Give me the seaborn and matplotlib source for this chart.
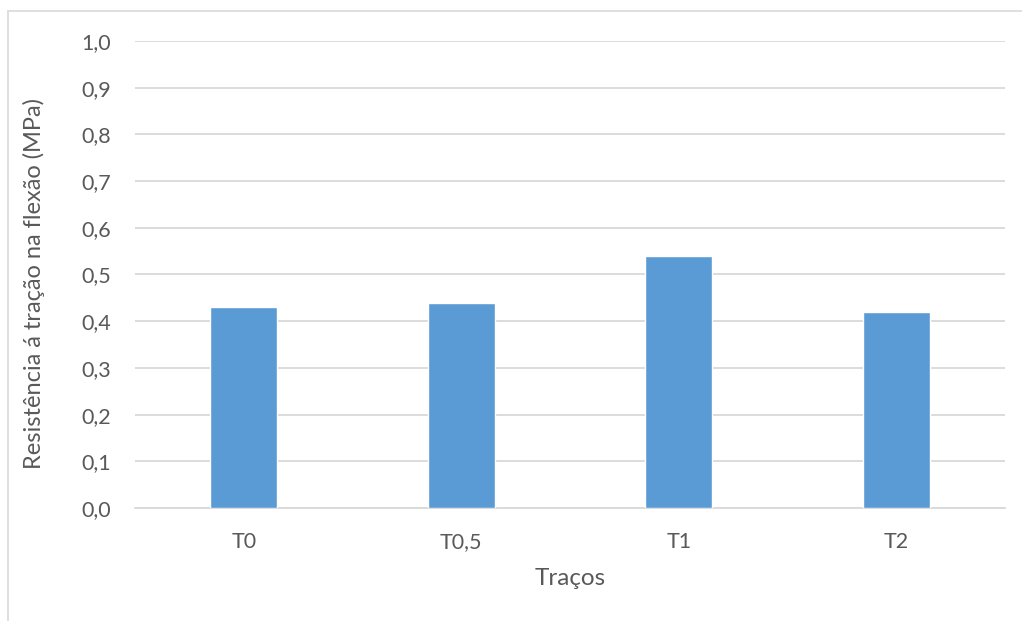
import matplotlib
matplotlib.use("Agg")
import matplotlib.pyplot as plt
from matplotlib.lines import Line2D
from matplotlib.ticker import MultipleLocator, FuncFormatter
import seaborn as sns
import pandas as pd

categories = ["T0", "T0,5", "T1", "T2"]
values = [0.43, 0.44, 0.54, 0.42]
x_label = "Traços"
y_label = "Resistência á tração na flexão (MPa)"

sns.set_style("white")
plt.rcParams["font.family"] = ["Lato", "DejaVu Sans"]

W, H = 1022, 621
fig = plt.figure(figsize=(W / 100, H / 100), dpi=100)
ax = fig.add_axes([135 / W, 1 - 508 / H, (1005 - 135) / W, (508 - 41) / H])

df = pd.DataFrame({"cat": categories, "val": values})
sns.barplot(data=df, x="cat", y="val", color="#5b9bd5", saturation=1,
            width=0.31, ax=ax, zorder=3)

text_color = "#595959"
grid_color = "#d9d9d9"

ax.set_ylim(0, 1.0)
ax.set_xlim(-0.5, len(categories) - 0.5)
ax.yaxis.set_major_locator(MultipleLocator(0.1))
ax.yaxis.set_major_formatter(FuncFormatter(lambda v, _: f"{v:.1f}".replace(".", ",")))
ax.grid(axis="y", color=grid_color, linewidth=1.3, zorder=0)
ax.set_axisbelow(True)
for side in ["top", "right", "left"]:
    ax.spines[side].set_visible(False)
ax.spines["bottom"].set_color(grid_color)
ax.spines["bottom"].set_linewidth(1.3)
ax.tick_params(axis="both", length=0, labelsize=15.5, colors=text_color)
ax.tick_params(axis="y", pad=17)
ax.tick_params(axis="x", pad=17)

ax.set_xlabel(x_label, fontsize=17.5, color=text_color)
ax.set_ylabel(y_label, fontsize=17, color=text_color)
ax.xaxis.set_label_coords(0.5, -0.128)
ax.yaxis.set_label_coords(-0.103, 0.48)

# chart area border
border = "#d9d9d9"
fig.add_artist(Line2D([8 / W, 8 / W], [0, 1 - 11 / H], transform=fig.transFigure,
                      color=border, linewidth=1.2))
fig.add_artist(Line2D([8 / W, 1], [1 - 11 / H, 1 - 11 / H], transform=fig.transFigure,
                      color=border, linewidth=1.2))

fig.savefig("out.png", dpi=100, facecolor="white")
